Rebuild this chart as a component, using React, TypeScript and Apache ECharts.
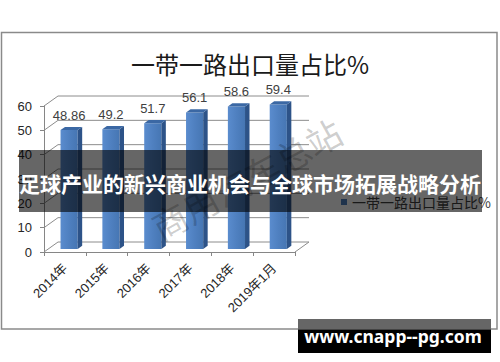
import React, { useEffect, useRef } from "react";
import * as echarts from "echarts";

const categories = ["2014年", "2015年", "2016年", "2017年", "2018年", "2019年1月"];
const values = [48.86, 49.2, 51.7, 56.1, 58.6, 59.4];
const valueLabels = ["48.86", "49.2", "51.7", "56.1", "58.6", "59.4"];
const yTicks = [0, 10, 20, 30, 40, 50, 60];
const seriesName = "一带一路出口量占比%";
const titleText = "一带一路出口量占比%";
const bannerText = "足球产业的新兴商业机会与全球市场拓展战略分析";
const siteText = "www.cnapp--pg.com";
const faintText = "商用汽车总站";

const DX = 14;
const DY = -10;

export default function App() {
  const ref = useRef<HTMLDivElement>(null);
  useEffect(() => {
    if (!ref.current) return;
    const chart = echarts.init(ref.current, undefined, { renderer: "svg" });
    const frontGrad = new echarts.graphic.LinearGradient(0, 0, 1, 0, [
      { offset: 0, color: "#5a8cce" },
      { offset: 0.5, color: "#4f80c0" },
      { offset: 1, color: "#4676b3" },
    ]);
    const option: any = {
      animation: false,
      backgroundColor: "#ffffff",
      title: {
        text: titleText,
        left: "center",
        top: 46,
        textStyle: {
          fontSize: 24,
          fontWeight: "normal",
          color: "#1a1a1a",
          fontFamily: "Noto Sans CJK SC",
        },
      },
      legend: {
        data: [seriesName],
        left: 341,
        top: 195,
        padding: 0,
        icon: "rect",
        itemWidth: 6,
        itemHeight: 6,
        textStyle: { fontSize: 14, color: "#404040", fontFamily: "Noto Sans CJK SC" },
      },
      grid: { left: 44, right: 205, top: 106, bottom: 110, containLabel: false },
      xAxis: {
        type: "category",
        data: categories,
        boundaryGap: true,
        axisLine: { show: true, lineStyle: { color: "#868686", width: 1 } },
        axisTick: { show: true, length: 4, alignWithLabel: false, lineStyle: { color: "#868686" } },
        axisLabel: {
          rotate: 45,
          fontSize: 13,
          margin: 14,
          color: "#262626",
          fontFamily: "Liberation Sans, Noto Sans CJK SC",
          interval: 0,
        },
        splitLine: { show: false },
      },
      yAxis: {
        type: "value",
        min: 0,
        max: 60,
        interval: 10,
        axisLine: { show: true, lineStyle: { color: "#868686", width: 1 } },
        axisTick: { show: true, length: 4, lineStyle: { color: "#868686" } },
        axisLabel: { fontSize: 13, margin: 12, color: "#262626", fontFamily: "Liberation Sans" },
        splitLine: { show: false },
      },
      series: [
        {
          name: "grid3d",
          type: "custom",
          silent: true,
          z: 1,
          data: yTicks.map((t) => [0, t]),
          encode: { x: 0, y: 1 },
          renderItem: (params: any, api: any) => {
            const cs = params.coordSys;
            const p = api.coord([0, api.value(1)]);
            const y = p[1];
            const x0 = cs.x;
            const x1 = cs.x + cs.width;
            const children: any[] = [
              {
                type: "polyline",
                shape: { points: [[x0, y], [x0 + DX, y + DY], [x1 + DX, y + DY]] },
                style: { stroke: "#8c8c8c", lineWidth: 1, fill: "none" },
              },
            ];
            if (api.value(1) === 0) {
              children.push({
                type: "line",
                shape: { x1: x1, y1: y, x2: x1 + DX, y2: y + DY },
                style: { stroke: "#8c8c8c", lineWidth: 1 },
              });
            }
            return { type: "group", children };
          },
        },
        {
          name: seriesName,
          type: "custom",
          z: 3,
          itemStyle: { color: "#4F81BD" },
          data: values.map((v, i) => [i, v]),
          encode: { x: 0, y: 1 },
          renderItem: (params: any, api: any) => {
            const idx = api.value(0);
            const v = api.value(1);
            const top = api.coord([idx, v]);
            const base = api.coord([idx, 0]);
            const bw = api.size([1, 0])[0] * 0.41;
            const fx = 0.3 * DX;
            const fy = 0.3 * DY;
            const sx = 0.32 * DX;
            const sy = 0.32 * DY;
            const xl = top[0] - bw / 2 + fx;
            const xr = xl + bw;
            const yt = top[1] + fy;
            const yb = base[1] + fy;
            return {
              type: "group",
              children: [
                {
                  type: "rect",
                  shape: { x: xl, y: yt, width: bw, height: yb - yt },
                  style: { fill: frontGrad },
                },
                {
                  type: "polygon",
                  shape: { points: [[xr, yt], [xr + sx, yt + sy], [xr + sx, yb + sy], [xr, yb]] },
                  style: { fill: "#2d5388" },
                },
                {
                  type: "polygon",
                  shape: { points: [[xl, yt], [xl + sx, yt + sy], [xr + sx, yt + sy], [xr, yt]] },
                  style: { fill: "#3b68a4" },
                },
                {
                  type: "text",
                  x: (xl + xr) / 2,
                  y: yt - 15,
                  style: {
                    text: valueLabels[idx],
                    fill: "#404040",
                    fontSize: 13,
                    fontFamily: "Liberation Sans",
                    textAlign: "center",
                    textVerticalAlign: "middle",
                  },
                },
              ],
            };
          },
        },
      ],
      graphic: [
        {
          type: "rect",
          z: 0,
          shape: { x: 1.5, y: 32.5, width: 495.5, height: 296.5 },
          style: { fill: "none", stroke: "#8a8a8a", lineWidth: 1.5 },
        },
        {
          type: "text",
          z: 50,
          x: 246,
          y: 178,
          rotation: 0.5,
          style: {
            text: faintText,
            fill: "rgba(0,0,0,0.2)",
            fontSize: 35,
            fontFamily: "Noto Sans CJK SC",
            fontWeight: "normal",
            textAlign: "center",
            textVerticalAlign: "middle",
            letterSpacing: 2,
          },
        },
        {
          type: "rect",
          z: 100,
          shape: { x: 19, y: 150, width: 463, height: 62 },
          style: { fill: "rgba(0,0,0,0.6)" },
        },
        {
          type: "text",
          z: 101,
          x: 250,
          y: 183,
          style: {
            text: bannerText,
            fill: "#ffffff",
            fontSize: 21,
            fontWeight: "bold",
            fontFamily: "Noto Sans CJK SC",
            textAlign: "center",
            textVerticalAlign: "middle",
          },
        },
        {
          type: "rect",
          z: 100,
          shape: { x: 298, y: 319, width: 193, height: 10.5 },
          style: { fill: "#666666" },
        },
        {
          type: "rect",
          z: 100,
          shape: { x: 298, y: 329.5, width: 193, height: 23.5 },
          style: { fill: "#000000" },
        },
        {
          type: "text",
          z: 101,
          x: 393,
          y: 336,
          style: {
            text: siteText,
            fill: "#ffffff",
            fontSize: 17.5,
            fontWeight: "bold",
            fontFamily: "Noto Sans",
            textAlign: "center",
            textVerticalAlign: "middle",
          },
        },
      ],
    };
    chart.setOption(option);
    return () => chart.dispose();
  }, []);
  return (
    <div
      ref={ref}
      style={{ position: "absolute", left: 0, top: 0, width: 500, height: 362 }}
    />
  );
}
